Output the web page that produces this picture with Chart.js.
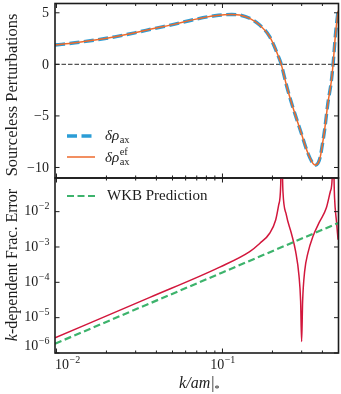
<!DOCTYPE html>
<html lang="en">
<head>
<meta charset="UTF-8">
<title>Sourceless perturbations and k-dependent error</title>
<script src="https://cdn.jsdelivr.net/npm/chart.js"></script>
<style>
  html, body { margin: 0; padding: 0; background: #fff; }
  #wrap { position: relative; width: 341px; height: 394px; }
  #wrap canvas { position: absolute; left: 0; top: 0; }
</style>
</head>
<body>
<div id="wrap">
  <canvas id="topChart" width="341" height="394"></canvas>
  <canvas id="errChart" width="341" height="394"></canvas>
</div>
<script>
// top panel: delta rho_ax and its ef counterpart (they overlap)
const kTop = [0.00981, 0.01294, 0.01707, 0.02251, 0.0297, 0.03916, 0.05166, 0.0681, 0.0899, 0.1137,
  0.1271, 0.1459, 0.1676, 0.1925, 0.2211, 0.226, 0.2427, 0.2574, 0.2985, 0.3271,
  0.3505, 0.357, 0.3639, 0.3707, 0.3779, 0.3885, 0.3994, 0.4123, 0.4315, 0.4522,
  0.4637, 0.48, 0.497];
const rhoAx = [1.87, 2.09, 2.35, 2.67, 3.06, 3.49, 3.9, 4.36, 4.71, 4.84,
  4.78, 4.46, 3.81, 2.68, 0.45, 0, -2.0, -3.46, -6.69, -8.62,
  -9.6, -9.72, -9.76, -9.7, -9.53, -8.95, -7.82, -6.37, -3.78, -1.69,
  0, 3.0, 5.2];
const rhoAxEf = [1.87, 2.09, 2.35, 2.67, 3.06, 3.49, 3.9, 4.36, 4.71, 4.84,
  4.78, 4.46, 3.81, 2.68, 0.45, 0, -2.0, -3.46, -6.69, -8.62,
  -9.6, -9.72, -9.76, -9.7, -9.53, -8.95, -7.82, -6.37, -3.78, -1.69,
  0, 3.0, 5.2];

// bottom panel: fractional error and WKB prediction
const kErr = [0.00981, 0.03654, 0.09634, 0.1459, 0.1676, 0.1925, 0.2092, 0.2181, 0.2243, 0.2264,
  0.2314, 0.2425, 0.26, 0.276, 0.2888, 0.2957, 0.2998, 0.304, 0.3125, 0.327,
  0.3505, 0.3847, 0.422, 0.4461, 0.4586, 0.4624, 0.4733, 0.4867, 0.4969];
const fracErr = [2.7e-6, 3.75e-5, 2.7e-4, 7.4e-4, 1.26e-3, 2.45e-3, 5.8e-3, 1.55e-2, 5.7e-2, 1,
  3.7e-2, 8.1e-3, 2.45e-3, 7.4e-4, 1.6e-4, 2.9e-5, 2.1e-6, 2.9e-5, 2.0e-4, 6.7e-4,
  1.97e-3, 5.2e-3, 1.26e-2, 3.67e-2, 1.0e-1, 1, 2.5e-2, 5e-3, 1.6e-3];
const kWkb = [0.0098, 0.1, 0.5];
const wkbPred = [1.83e-6, 1.9e-4, 4.8e-3];

const xMajor = [0.01, 0.1];
const yTopTicks = [-10, -5, 0, 5];
const yErrTicks = [1e-6, 1e-5, 1e-4, 1e-3, 1e-2];
const X_MIN = 0.0098, X_MAX = 0.5;

const BLUE = '#2b9dd6', ORANGE = '#ee6a2c', RED = '#d2173c', GREEN = '#3db36c';
const INK = '#1c1c1c';
const SERIF = '"Liberation Serif", "DejaVu Serif", serif';

const pts = (xs, ys) => xs.map((x, i) => ({ x: x, y: ys[i] }));

// x minor ticks 2..9 per decade
const xMinor = [];
[0.01, 0.1].forEach(d => { for (let m = 2; m <= 9; m++) if (m * d <= X_MAX) xMinor.push(m * d); });

// inward ticks on all four sides + box
const frame = {
  id: 'frame',
  afterDatasetsDraw(chart, args, opts) {
    const { ctx, chartArea: a, scales: { x, y } } = chart;
    ctx.save();
    ctx.strokeStyle = INK;
    ctx.lineWidth = 1;
    const tick = (px, py, dx, dy) => {
      ctx.beginPath(); ctx.moveTo(px, py); ctx.lineTo(px + dx, py + dy); ctx.stroke();
    };
    xMajor.forEach(v => {
      const p = x.getPixelForValue(v);
      tick(p, a.bottom, 0, -4.5); tick(p, a.top, 0, 4.5);
    });
    xMinor.forEach(v => {
      const p = x.getPixelForValue(v);
      tick(p, a.bottom, 0, -2.5); tick(p, a.top, 0, 2.5);
    });
    opts.yTicks.forEach(v => {
      const p = y.getPixelForValue(v);
      if (p < a.top - 0.5 || p > a.bottom + 0.5) return;
      tick(a.left, p, 4.5, 0); tick(a.right, p, -4.5, 0);
    });
    ctx.lineWidth = 1.6;
    ctx.strokeRect(a.left, a.top, a.right - a.left, a.bottom - a.top);
    ctx.restore();
  }
};

function pow10(ctx, x, y, e, align) {
  const sup = '\u2212' + Math.abs(e);
  ctx.font = '14px ' + SERIF;
  const wb = ctx.measureText('10').width;
  ctx.font = '10px ' + SERIF;
  const ws = ctx.measureText(sup).width;
  const w = wb + ws;
  const x0 = align === 'right' ? x - w : align === 'center' ? x - w / 2 : x;
  ctx.textAlign = 'left';
  ctx.textBaseline = 'middle';
  ctx.font = '14px ' + SERIF;
  ctx.fillText('10', x0, y);
  ctx.font = '10px ' + SERIF;
  ctx.fillText(sup, x0 + wb + 0.5, y - 5);
}

function legendLine(ctx, y, ds) {
  ctx.save();
  ctx.strokeStyle = ds.borderColor;
  ctx.lineWidth = ds.borderWidth;
  ctx.setLineDash(ds.borderDash || []);
  ctx.beginPath(); ctx.moveTo(67, y); ctx.lineTo(95, y); ctx.stroke();
  ctx.restore();
}

const topLabels = {
  id: 'topLabels',
  afterDraw(chart) {
    const { ctx, scales: { y } } = chart;
    const ds = chart.data.datasets;
    ctx.save();
    ctx.fillStyle = INK;
    ctx.font = '14px ' + SERIF;
    ctx.textAlign = 'right';
    ctx.textBaseline = 'middle';
    yTopTicks.forEach(v => {
      const s = v < 0 ? '\u2212' + Math.abs(v) : String(v);
      ctx.fillText(s, 49, y.getPixelForValue(v) + 0.5);
    });
    // y title
    ctx.save();
    ctx.translate(13, 95);
    ctx.rotate(-Math.PI / 2);
    ctx.font = '16.5px ' + SERIF;
    ctx.textAlign = 'center';
    ctx.textBaseline = 'middle';
    ctx.fillText('Sourceless Perturbations', 0, 0);
    ctx.restore();
    // legend
    legendLine(ctx, 136, ds[1]);
    legendLine(ctx, 157, ds[0]);
    ctx.textAlign = 'left';
    ctx.textBaseline = 'alphabetic';
    ctx.font = 'italic 15px ' + SERIF;
    const wg = ctx.measureText('\u03b4\u03c1').width;
    ctx.fillText('\u03b4\u03c1', 105, 140);
    ctx.fillText('\u03b4\u03c1', 105, 161.5);
    ctx.font = '10.5px ' + SERIF;
    ctx.fillText('ax', 105 + wg + 0.5, 143);
    ctx.fillText('ax', 105 + wg + 0.5, 164.5);
    ctx.fillText('ef', 105 + wg + 0.5, 155);
    ctx.restore();
  }
};

const errLabels = {
  id: 'errLabels',
  afterDraw(chart) {
    const { ctx, scales: { x, y } } = chart;
    const ds = chart.data.datasets;
    ctx.save();
    ctx.fillStyle = INK;
    yErrTicks.forEach(v => {
      const e = Math.round(Math.log10(v));
      let py = y.getPixelForValue(v);
      if (e === -6) py -= 7;
      pow10(ctx, 49, py, e, 'right');
    });
    pow10(ctx, 55, 365, -2, 'left');
    pow10(ctx, x.getPixelForValue(0.1), 365, -1, 'center');
    // y title
    ctx.save();
    ctx.translate(13, 265);
    ctx.rotate(-Math.PI / 2);
    ctx.textBaseline = 'middle';
    ctx.textAlign = 'left';
    ctx.font = 'italic 16px ' + SERIF;
    const wk = ctx.measureText('k').width;
    ctx.font = '16px ' + SERIF;
    const wr = ctx.measureText('-dependent Frac. Error').width;
    const s0 = -(wk + wr) / 2;
    ctx.font = 'italic 16px ' + SERIF;
    ctx.fillText('k', s0, 0);
    ctx.font = '16px ' + SERIF;
    ctx.fillText('-dependent Frac. Error', s0 + wk, 0);
    ctx.restore();
    // x title
    ctx.textBaseline = 'alphabetic';
    ctx.textAlign = 'left';
    ctx.font = 'italic 16px ' + SERIF;
    const w1 = ctx.measureText('k/am').width;
    ctx.font = '16px ' + SERIF;
    const w2 = ctx.measureText('|').width;
    ctx.font = '10px ' + SERIF;
    const w3 = ctx.measureText('*').width;
    const cx = (chart.chartArea.left + chart.chartArea.right) / 2 + 2;
    const tx = cx - (w1 + w2 + w3) / 2;
    ctx.font = 'italic 16px ' + SERIF;
    ctx.fillText('k/am', tx, 388);
    ctx.font = '16px ' + SERIF;
    ctx.fillText('|', tx + w1 + 1, 388);
    ctx.font = '10px ' + SERIF;
    ctx.fillText('*', tx + w1 + w2 + 1, 392);
    // legend
    legendLine(ctx, 196, ds[0]);
    ctx.font = '15px ' + SERIF;
    ctx.textBaseline = 'middle';
    ctx.fillText('WKB Prediction', 107, 196.5);
    ctx.restore();
  }
};

const baseOptions = (pad, yScale, yTicks) => ({
  responsive: false,
  animation: false,
  devicePixelRatio: 1,
  layout: { padding: pad },
  elements: { point: { radius: 0 } },
  plugins: { legend: { display: false }, tooltip: { enabled: false }, frame: { yTicks: yTicks } },
  scales: {
    x: { type: 'logarithmic', min: X_MIN, max: X_MAX, display: false },
    y: Object.assign({ display: false }, yScale)
  }
});

new Chart(document.getElementById('topChart'), {
  type: 'line',
  data: {
    datasets: [
      { data: pts(kTop, rhoAxEf), borderColor: ORANGE, borderWidth: 1.5, cubicInterpolationMode: 'monotone', clip: 0 },
      { data: pts(kTop, rhoAx), borderColor: BLUE, borderWidth: 3.4, borderDash: [10, 4.5], cubicInterpolationMode: 'monotone', clip: 0 },
      { data: pts([X_MIN, X_MAX], [0, 0]), borderColor: '#555', borderWidth: 1.2, borderDash: [4.5, 2], clip: 0 }
    ]
  },
  options: baseOptions({ left: 55, right: 2.5, top: 3.5, bottom: 216 },
    { type: 'linear', min: -11.02, max: 5.9 }, yTopTicks),
  plugins: [frame, topLabels]
});

new Chart(document.getElementById('errChart'), {
  type: 'line',
  data: {
    datasets: [
      { data: pts(kWkb, wkbPred), borderColor: GREEN, borderWidth: 2.2, borderDash: [7, 3.5], clip: 0 },
      { data: pts(kErr, fracErr), borderColor: RED, borderWidth: 1.5, cubicInterpolationMode: 'monotone', clip: 0 }
    ]
  },
  options: baseOptions({ left: 55, right: 2.5, top: 178, bottom: 41 },
    { type: 'logarithmic', min: 1e-6, max: 0.0896 }, yErrTicks),
  plugins: [frame, errLabels]
});
</script>
</body>
</html>
